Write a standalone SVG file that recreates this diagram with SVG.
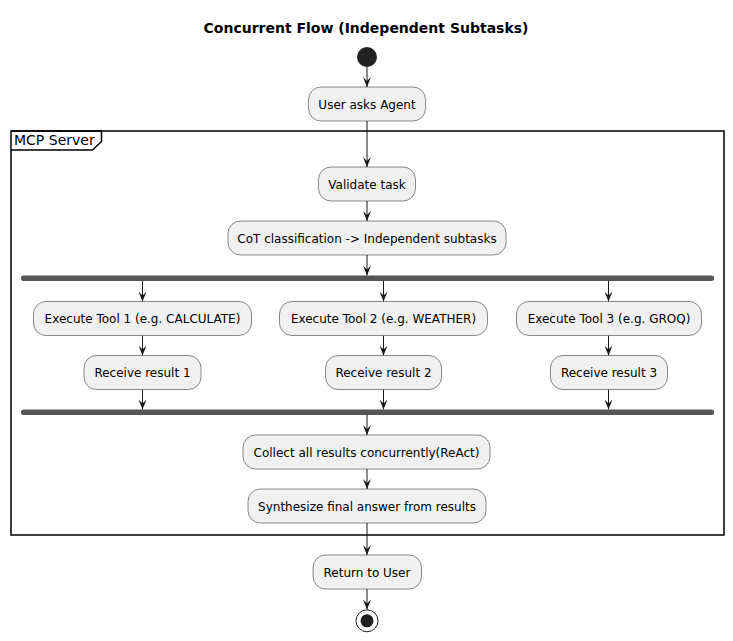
<svg xmlns="http://www.w3.org/2000/svg" width="733" height="641" viewBox="0 0 733 641">
<defs>
<style>
.t{font-family:"DejaVu Sans","Noto Sans",sans-serif;font-size:12px;fill:#000;text-anchor:middle}
.b{fill:#F1F1F1;stroke:#181818;stroke-width:0.5}
.l{stroke:#181818;stroke-width:1;fill:none}
.bar{fill:#555555;stroke:none}
</style>
<marker id="ah" viewBox="0 0 10 8" refX="10" refY="4" markerWidth="10" markerHeight="8" markerUnits="userSpaceOnUse" orient="auto">
<polygon points="0,0 10,4 0,8 4,4" fill="#181818"/>
</marker>
</defs>
<rect width="733" height="641" fill="#FFFFFF"/>
<text x="366" y="33" style="font-family:'DejaVu Sans','Noto Sans',sans-serif;font-size:14px;font-weight:bold;text-anchor:middle">Concurrent Flow (Independent Subtasks)</text>

<g id="frame-mcp">
<rect x="11" y="131" width="713" height="404" fill="none" stroke="#000" stroke-width="1.5"/>
<path d="M11,131 H101.5 V141.5 L92.5,150 H11" fill="none" stroke="#000" stroke-width="1.5"/>
<text x="14" y="145" style="font-family:'DejaVu Sans','Noto Sans',sans-serif;font-size:14px">MCP Server</text>
</g>

<g id="connectors">
<line class="l" x1="367" y1="67" x2="367" y2="87" marker-end="url(#ah)"/>
<line class="l" x1="367" y1="121" x2="367" y2="167" marker-end="url(#ah)"/>
<line class="l" x1="367" y1="201" x2="367" y2="221" marker-end="url(#ah)"/>
<line class="l" x1="367" y1="255" x2="367" y2="275.5" marker-end="url(#ah)"/>
<line class="l" x1="142.5" y1="281" x2="142.5" y2="301.5" marker-end="url(#ah)"/>
<line class="l" x1="383.5" y1="281" x2="383.5" y2="301.5" marker-end="url(#ah)"/>
<line class="l" x1="608.5" y1="281" x2="608.5" y2="301.5" marker-end="url(#ah)"/>
<line class="l" x1="142.5" y1="335.5" x2="142.5" y2="355.5" marker-end="url(#ah)"/>
<line class="l" x1="383.5" y1="335.5" x2="383.5" y2="355.5" marker-end="url(#ah)"/>
<line class="l" x1="608.5" y1="335.5" x2="608.5" y2="355.5" marker-end="url(#ah)"/>
<line class="l" x1="142.5" y1="389.5" x2="142.5" y2="409.5" marker-end="url(#ah)"/>
<line class="l" x1="383.5" y1="389.5" x2="383.5" y2="409.5" marker-end="url(#ah)"/>
<line class="l" x1="608.5" y1="389.5" x2="608.5" y2="409.5" marker-end="url(#ah)"/>
<line class="l" x1="367" y1="415" x2="367" y2="435" marker-end="url(#ah)"/>
<line class="l" x1="367" y1="469" x2="367" y2="489" marker-end="url(#ah)"/>
<line class="l" x1="367" y1="523" x2="367" y2="555" marker-end="url(#ah)"/>
<line class="l" x1="367" y1="589" x2="367" y2="609.5" marker-end="url(#ah)"/>
</g>

<g id="start"><circle cx="367" cy="57" r="10" fill="#222222"/></g>

<g id="n-user-asks"><rect class="b" x="308.5" y="87" width="117" height="34" rx="12.5"/><text class="t" x="367" y="108.5">User asks Agent</text></g>
<g id="n-validate"><rect class="b" x="318.5" y="167" width="97" height="34" rx="12.5"/><text class="t" x="367" y="188.5">Validate task</text></g>
<g id="n-cot"><rect class="b" x="228" y="221" width="278" height="34" rx="12.5"/><text class="t" x="367" y="242.5">CoT classification -&gt; Independent subtasks</text></g>

<g id="fork"><rect class="bar" x="21" y="275.5" width="693" height="5.5" rx="2.5"/></g>

<g id="n-exec1"><rect class="b" x="33.5" y="301.5" width="218" height="34" rx="12.5"/><text class="t" x="142.5" y="323">Execute Tool 1 (e.g. CALCULATE)</text></g>
<g id="n-exec2"><rect class="b" x="279.5" y="301.5" width="208" height="34" rx="12.5"/><text class="t" x="383.5" y="323">Execute Tool 2 (e.g. WEATHER)</text></g>
<g id="n-exec3"><rect class="b" x="516.5" y="301.5" width="185" height="34" rx="12.5"/><text class="t" x="609" y="323">Execute Tool 3 (e.g. GROQ)</text></g>

<g id="n-recv1"><rect class="b" x="84" y="355.5" width="117" height="34" rx="12.5"/><text class="t" x="142.5" y="377">Receive result 1</text></g>
<g id="n-recv2"><rect class="b" x="325.5" y="355.5" width="116" height="34" rx="12.5"/><text class="t" x="383.5" y="377">Receive result 2</text></g>
<g id="n-recv3"><rect class="b" x="550.5" y="355.5" width="117" height="34" rx="12.5"/><text class="t" x="609" y="377">Receive result 3</text></g>

<g id="join"><rect class="bar" x="21" y="409.5" width="693" height="5.5" rx="2.5"/></g>

<g id="n-collect"><rect class="b" x="243" y="435" width="247" height="34" rx="12.5"/><text class="t" x="366.5" y="456.5">Collect all results concurrently(ReAct)</text></g>
<g id="n-synth"><rect class="b" x="248" y="489" width="238" height="34" rx="12.5"/><text class="t" x="367" y="510.5">Synthesize final answer from results</text></g>
<g id="n-return"><rect class="b" x="313" y="555" width="108.5" height="34" rx="12.5"/><text class="t" x="367" y="576.5">Return to User</text></g>

<g id="end"><circle cx="367" cy="620.8" r="11" fill="none" stroke="#222222" stroke-width="1"/><circle cx="367" cy="620.8" r="6.5" fill="#222222"/></g>
</svg>
